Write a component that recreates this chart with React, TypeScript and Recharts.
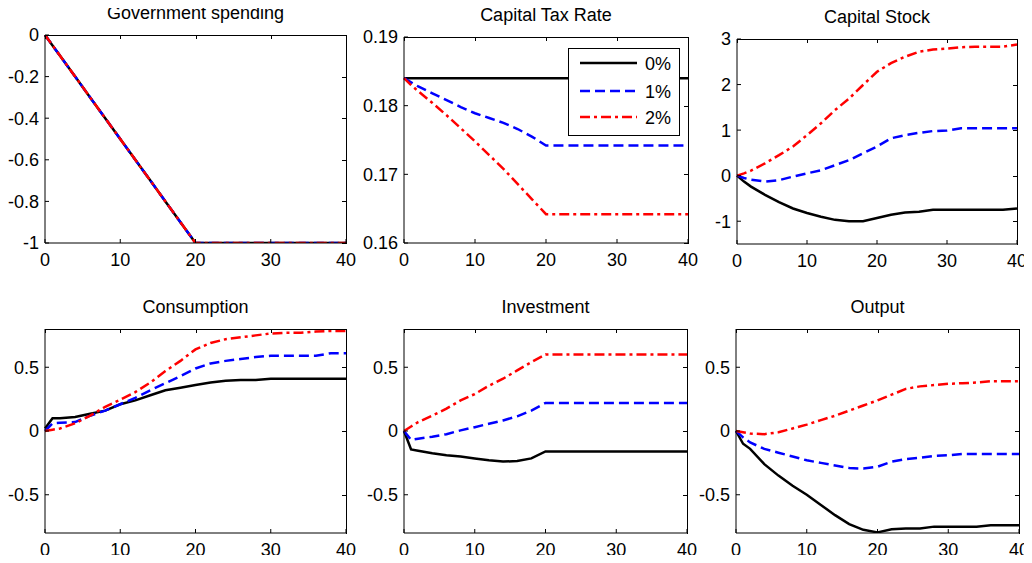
import { LineChart, Line, XAxis, YAxis, Legend } from 'recharts';

// horizon (quarters) at which the responses are sampled
const periods = [0, 1, 2, 4, 6, 8, 10, 12, 14, 16, 18, 20, 22, 24, 26, 28, 30, 32, 34, 36, 38, 40];
const xTicks = [0, 10, 20, 30, 40];

const govSpending = [0, -0.05, -0.1, -0.2, -0.3, -0.4, -0.5, -0.6, -0.7, -0.8, -0.9, -1, -1, -1, -1, -1, -1, -1, -1, -1, -1, -1];

const taxRate0 = [0.184, 0.184, 0.184, 0.184, 0.184, 0.184, 0.184, 0.184, 0.184, 0.184, 0.184, 0.184, 0.184, 0.184, 0.184, 0.184, 0.184, 0.184, 0.184, 0.184, 0.184, 0.184];
const taxRate1 = [0.184, 0.1834, 0.1828, 0.1818, 0.1808, 0.1798, 0.1789, 0.1782, 0.1775, 0.1766, 0.1755, 0.1742, 0.1742, 0.1742, 0.1742, 0.1742, 0.1742, 0.1742, 0.1742, 0.1742, 0.1742, 0.1742];
const taxRate2 = [0.184, 0.183, 0.1821, 0.1804, 0.1786, 0.1767, 0.1748, 0.1728, 0.1708, 0.1686, 0.1664, 0.1642, 0.1642, 0.1642, 0.1642, 0.1642, 0.1642, 0.1642, 0.1642, 0.1642, 0.1642, 0.1642];

const capital0 = [0, -0.13, -0.24, -0.42, -0.58, -0.72, -0.82, -0.9, -0.97, -1.0, -1.0, -0.93, -0.86, -0.81, -0.79, -0.75, -0.75, -0.75, -0.75, -0.75, -0.75, -0.72];
const capital1 = [0, -0.05, -0.09, -0.13, -0.1, -0.02, 0.05, 0.12, 0.23, 0.34, 0.49, 0.64, 0.82, 0.89, 0.94, 0.98, 0.99, 1.04, 1.04, 1.04, 1.04, 1.04];
const capital2 = [0, 0.05, 0.11, 0.27, 0.45, 0.64, 0.89, 1.15, 1.44, 1.69, 1.99, 2.28, 2.47, 2.61, 2.72, 2.77, 2.79, 2.82, 2.83, 2.83, 2.83, 2.88];

const consumption0 = [0.02, 0.1, 0.1, 0.11, 0.135, 0.16, 0.21, 0.24, 0.28, 0.32, 0.34, 0.36, 0.38, 0.395, 0.4, 0.4, 0.41, 0.41, 0.41, 0.41, 0.41, 0.41];
const consumption1 = [0, 0.06, 0.065, 0.07, 0.12, 0.16, 0.21, 0.26, 0.32, 0.375, 0.43, 0.49, 0.53, 0.55, 0.565, 0.58, 0.59, 0.59, 0.59, 0.59, 0.61, 0.61];
const consumption2 = [0, 0.01, 0.02, 0.06, 0.12, 0.19, 0.245, 0.305, 0.38, 0.47, 0.55, 0.64, 0.69, 0.72, 0.735, 0.75, 0.765, 0.77, 0.77, 0.78, 0.785, 0.785];

const investment0 = [0, -0.145, -0.155, -0.175, -0.19, -0.2, -0.215, -0.23, -0.24, -0.235, -0.215, -0.16, -0.16, -0.16, -0.16, -0.16, -0.16, -0.16, -0.16, -0.16, -0.16, -0.16];
const investment1 = [0, -0.07, -0.06, -0.045, -0.025, 0.005, 0.03, 0.057, 0.083, 0.115, 0.16, 0.22, 0.22, 0.22, 0.22, 0.22, 0.22, 0.22, 0.22, 0.22, 0.22, 0.22];
const investment2 = [0, 0.035, 0.07, 0.12, 0.175, 0.24, 0.29, 0.355, 0.41, 0.475, 0.54, 0.6, 0.6, 0.6, 0.6, 0.6, 0.6, 0.6, 0.6, 0.6, 0.6, 0.6];

const output0 = [0, -0.1, -0.14, -0.26, -0.35, -0.43, -0.5, -0.58, -0.66, -0.73, -0.775, -0.795, -0.77, -0.765, -0.765, -0.75, -0.75, -0.75, -0.75, -0.74, -0.74, -0.74];
const output1 = [0, -0.05, -0.09, -0.14, -0.17, -0.2, -0.23, -0.25, -0.27, -0.29, -0.295, -0.28, -0.24, -0.22, -0.21, -0.195, -0.19, -0.18, -0.18, -0.18, -0.18, -0.18];
const output2 = [0, -0.01, -0.02, -0.025, -0.01, 0.02, 0.05, 0.085, 0.12, 0.16, 0.2, 0.24, 0.285, 0.33, 0.35, 0.36, 0.37, 0.375, 0.38, 0.39, 0.39, 0.39];

const FONT = '"Liberation Sans", Arial, Helvetica, sans-serif';
const Y_AXIS_W = 44;
const X_AXIS_H = 36;
const TICK = 4;
const M = { top: 10, right: 10, bottom: 0, left: 0 };

const series = [
  { key: 'p0', name: '0%', color: '#000000', dash: undefined as string | undefined },
  { key: 'p1', name: '1%', color: '#0000ff', dash: '10 5' },
  { key: 'p2', name: '2%', color: '#ff0000', dash: '10 4 3 4' },
];

type Box = { x0: number; y0: number; x1: number; y1: number };

function LegendBox() {
  return (
    <svg width={112} height={88} style={{ display: 'block' }}>
      <rect x={0.5} y={0.5} width={111} height={87} fill="#fff" stroke="#000" strokeWidth={1} />
      {series.map((s, i) => {
        const y = [15, 43, 69][i];
        return (
          <g key={s.key}>
            <line x1={12} x2={69} y1={y} y2={y} stroke={s.color} strokeWidth={2.5} strokeDasharray={s.dash} />
            <text x={77} y={y + 6.5} fontSize={18} fontFamily={FONT} fill="#000">{s.name}</text>
          </g>
        );
      })}
    </svg>
  );
}

// top / right edges of the MATLAB box as plain bordered divs, with small inward tick marks
function BoxEdges({ box, domain, yTicks }: { box: Box; domain: [number, number]; yTicks: number[] }) {
  const w = box.x1 - box.x0;
  const h = box.y1 - box.y0;
  const px = (t: number) => Math.round((t / 40) * w);
  const py = (v: number) => Math.round(h - ((v - domain[0]) / (domain[1] - domain[0])) * h);
  return (
    <div style={{ position: 'absolute', left: box.x0, top: box.y0, width: w, height: h, zIndex: 5, pointerEvents: 'none' }}>
      <div style={{ position: 'absolute', left: 0, top: 0, width: w + 1, height: 1, background: '#000' }} />
      <div style={{ position: 'absolute', left: w, top: 0, width: 1, height: h + 1, background: '#000' }} />
      {xTicks.map((t) => (
        <div key={`x${t}`} style={{ position: 'absolute', left: px(t), top: 0, width: 1, height: TICK, background: '#000' }} />
      ))}
      {yTicks.map((v) => (
        <div key={`y${v}`} style={{ position: 'absolute', left: w - TICK, top: py(v), width: TICK, height: 1, background: '#000' }} />
      ))}
    </div>
  );
}

function Panel({ title, box, domain, yTicks, lines, legend }: {
  title: string; box: Box; domain: [number, number]; yTicks: number[];
  lines: number[][]; legend?: boolean;
}) {
  const left = box.x0 - Y_AXIS_W - M.left;
  const top = box.y0 - M.top;
  const width = Y_AXIS_W + (box.x1 - box.x0) + M.right;
  const height = M.top + (box.y1 - box.y0) + X_AXIS_H;
  const data = periods.map((t, i) => ({ t, p0: lines[0][i], p1: lines[1][i], p2: lines[2][i] }));
  const tick = { fill: '#000', fontSize: 18, fontFamily: FONT };

  return (
    <>
      <div style={{
        position: 'absolute', left: box.x0, width: box.x1 - box.x0, top: box.y0 - 32,
        textAlign: 'center', fontFamily: FONT, fontSize: 18, lineHeight: '20px', color: '#000',
      }}>{title}</div>
      <div style={{ position: 'absolute', left, top }}>
        <LineChart width={width} height={height} data={data} margin={M}>
          <XAxis dataKey="t" type="number" domain={[0, 40]} ticks={xTicks} height={X_AXIS_H}
            stroke="#000" tickSize={-TICK} tickMargin={14} tick={tick} interval={0} />
          <YAxis type="number" domain={domain} ticks={yTicks} width={Y_AXIS_W} stroke="#000"
            tickSize={-TICK} tickMargin={10} tick={tick} interval={0} allowDataOverflow />
          {series.map((s) => (
            <Line key={s.key} dataKey={s.key} name={s.name} type="linear" stroke={s.color}
              strokeWidth={2.5} strokeDasharray={s.dash} dot={false} activeDot={false}
              isAnimationActive={false} />
          ))}
          {legend && (
            <Legend layout="vertical" align="center" verticalAlign="middle" content={() => <LegendBox />}
              wrapperStyle={{ position: 'absolute', left: 568 - left, top: 48 - top, width: 112, height: 88, zIndex: 6 }} />
          )}
        </LineChart>
      </div>
      <BoxEdges box={box} domain={domain} yTicks={yTicks} />
    </>
  );
}

export default function App() {
  return (
    <div style={{ position: 'relative', width: 1032, height: 563, margin: -8, background: '#fff' }}>
      <Panel title="Government spending" box={{ x0: 45, y0: 35, x1: 346, y1: 243 }} domain={[-1, 0]}
        yTicks={[-1, -0.8, -0.6, -0.4, -0.2, 0]} lines={[govSpending, govSpending, govSpending]} />
      <Panel title="Capital Tax Rate" box={{ x0: 404, y0: 37, x1: 688, y1: 243 }} domain={[0.16, 0.19]}
        yTicks={[0.16, 0.17, 0.18, 0.19]} lines={[taxRate0, taxRate1, taxRate2]} legend />
      <Panel title="Capital Stock" box={{ x0: 737, y0: 39, x1: 1017, y1: 244 }} domain={[-1.5, 3]}
        yTicks={[-1, 0, 1, 2, 3]} lines={[capital0, capital1, capital2]} />
      <Panel title="Consumption" box={{ x0: 45, y0: 329, x1: 346, y1: 533 }} domain={[-0.8, 0.8]}
        yTicks={[-0.5, 0, 0.5]} lines={[consumption0, consumption1, consumption2]} />
      <Panel title="Investment" box={{ x0: 404, y0: 329, x1: 687, y1: 533 }} domain={[-0.8, 0.8]}
        yTicks={[-0.5, 0, 0.5]} lines={[investment0, investment1, investment2]} />
      <Panel title="Output" box={{ x0: 736, y0: 329, x1: 1019, y1: 533 }} domain={[-0.8, 0.8]}
        yTicks={[-0.5, 0, 0.5]} lines={[output0, output1, output2]} />
    </div>
  );
}
